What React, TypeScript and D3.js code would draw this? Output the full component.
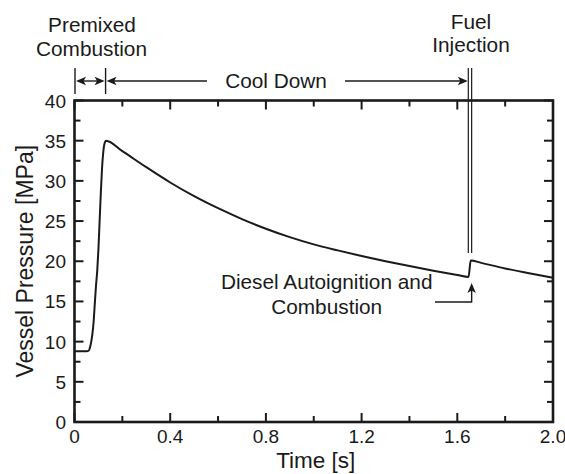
import React from "react";
import * as d3 from "d3";

// ---- data ----
const timeS = [0, 0.03, 0.05, 0.06, 0.065, 0.07, 0.075, 0.08, 0.085, 0.09, 0.095, 0.1, 0.105, 0.11, 0.115, 0.12, 0.125, 0.132, 0.2, 0.3, 0.4, 0.5, 0.6, 0.7, 0.8, 0.9, 1.0, 1.1, 1.2, 1.3, 1.4, 1.5, 1.6, 1.647, 1.656, 1.7, 1.8, 1.9, 2.0];
const pressureMPa = [8.8, 8.8, 8.8, 8.9, 9.3, 10.0, 11.0, 12.5, 14.8, 17.0, 18.8, 21.5, 25.0, 28.5, 31.5, 33.5, 34.6, 35.0, 33.7, 31.7, 29.8, 28.1, 26.6, 25.25, 24.05, 23.0, 22.1, 21.35, 20.65, 20.0, 19.4, 18.83, 18.3, 18.05, 20.1, 19.8, 19.1, 18.5, 17.95];

const xMajorTicks = [0, 0.4, 0.8, 1.2, 1.6, 2.0];
const xTickLabels = ["0", "0.4", "0.8", "1.2", "1.6", "2.0"];
const xMinorTicks = [0.2, 0.6, 1.0, 1.4, 1.8];
const yMajorTicks = [0, 5, 10, 15, 20, 25, 30, 35, 40];
const yTickLabels = ["0", "5", "10", "15", "20", "25", "30", "35", "40"];
const yMinorTicks = [2.5, 7.5, 12.5, 17.5, 22.5, 27.5, 32.5, 37.5];

const premixedEnd = 0.132; // s
const injectionTimes = [1.646, 1.66]; // s
const autoignition = { t: 1.66, p: 20.1 };

const FONT = "'Liberation Sans', Arial, Helvetica, sans-serif";
const INK = "#1a1a1a";

function Arrow({ x, y, dir }: { x: number; y: number; dir: "left" | "right" | "up" }) {
  const L = 10, W = 4.2, N = 2.5;
  let d = "";
  if (dir === "left") d = `M${x},${y} L${x + L},${y - W} L${x + L - N},${y} L${x + L},${y + W} Z`;
  if (dir === "right") d = `M${x},${y} L${x - L},${y - W} L${x - L + N},${y} L${x - L},${y + W} Z`;
  if (dir === "up") d = `M${x},${y} L${x - W},${y + L} L${x},${y + L - N} L${x + W},${y + L} Z`;
  return <path d={d} fill={INK} />;
}

export default function App() {
  const x = d3.scaleLinear().domain([0, 2]).range([74.5, 553]);
  const y = d3.scaleLinear().domain([0, 40]).range([422, 100.5]);
  const pts = timeS.map((t, i) => [t, pressureMPa[i]] as [number, number]);
  const line = d3
    .line<[number, number]>()
    .x((d) => x(d[0]))
    .y((d) => y(d[1]))
    .curve(d3.curveMonotoneX);

  const x0 = x(0), x1 = x(2), y0 = y(0), y1 = y(40);
  const majL = 9, minL = 6;
  const xPre = x(premixedEnd);
  const arrowY = 81;
  const ax = x(autoignition.t);

  return (
    <svg
      width={565}
      height={474}
      style={{ position: "absolute", left: 0, top: 0, background: "#fff" }}
      fontFamily={FONT}
    >
      <rect width={565} height={474} fill="#fff" />
      {/* ticks */}
      <g stroke={INK} strokeWidth={2}>
        {xMajorTicks.map((t) => (
          <g key={"xm" + t}>
            <line x1={x(t)} x2={x(t)} y1={y0} y2={y0 - majL} />
            <line x1={x(t)} x2={x(t)} y1={y1} y2={y1 + majL} />
          </g>
        ))}
        {xMinorTicks.map((t) => (
          <g key={"xn" + t}>
            <line x1={x(t)} x2={x(t)} y1={y0} y2={y0 - minL} />
            <line x1={x(t)} x2={x(t)} y1={y1} y2={y1 + minL} />
          </g>
        ))}
        {yMajorTicks.map((v) => (
          <g key={"ym" + v}>
            <line x1={x0} x2={x0 + majL} y1={y(v)} y2={y(v)} />
            <line x1={x1} x2={x1 - majL} y1={y(v)} y2={y(v)} />
          </g>
        ))}
        {yMinorTicks.map((v) => (
          <g key={"yn" + v}>
            <line x1={x0} x2={x0 + minL} y1={y(v)} y2={y(v)} />
            <line x1={x1} x2={x1 - minL} y1={y(v)} y2={y(v)} />
          </g>
        ))}
      </g>
      {/* frame */}
      <rect x={x0} y={y1} width={x1 - x0} height={y0 - y1} fill="none" stroke={INK} strokeWidth={2.6} />

      {/* curve */}
      <path d={line(pts) || ""} fill="none" stroke={INK} strokeWidth={2} strokeLinejoin="round" />

      {/* tick labels */}
      <g fill={INK} fontSize={19}>
        {xMajorTicks.map((t, i) => (
          <text key={"xl" + t} x={x(t)} y={y0 + 21} textAnchor="middle">
            {xTickLabels[i]}
          </text>
        ))}
        {yMajorTicks.map((v, i) => (
          <text key={"yl" + v} x={66} y={y(v) + 7} textAnchor="end">
            {yTickLabels[i]}
          </text>
        ))}
      </g>

      {/* axis titles */}
      <text x={(x0 + x1) / 2 + 2} y={468} textAnchor="middle" fontSize={22.5} fill={INK}>
        Time [s]
      </text>
      <text
        transform={`translate(32.5,${(y0 + y1) / 2}) rotate(-90)`}
        textAnchor="middle"
        fontSize={23}
        fill={INK}
      >
        Vessel Pressure [MPa]
      </text>

      {/* top annotations */}
      <g fill={INK} fontSize={20.8} textAnchor="middle">
        <text x={92} y={32}>Premixed</text>
        <text x={91.5} y={55.5}>Combustion</text>
        <text x={471} y={29.3}>Fuel</text>
        <text x={471} y={51.7}>Injection</text>
        <text x={276} y={88.3}>Cool Down</text>
        <text x={326.7} y={289.3}>Diesel Autoignition and</text>
        <text x={326.7} y={314}>Combustion</text>
      </g>

      {/* brackets */}
      <g stroke={INK} strokeWidth={1.4}>
        <line x1={x0 + 0.5} x2={x0 + 0.5} y1={68} y2={94} />
        <line x1={xPre - 0.5} x2={xPre - 0.5} y1={68} y2={94} />
        <line x1={x0 + 4} x2={xPre - 4} y1={arrowY} y2={arrowY} />
        <line x1={xPre + 4} x2={207} y1={arrowY} y2={arrowY} />
        <line x1={345} x2={x(injectionTimes[0]) - 4} y1={arrowY} y2={arrowY} />
        {injectionTimes.map((t) => (
          <line key={"inj" + t} x1={x(t)} x2={x(t)} y1={68} y2={253} strokeWidth={1.2} />
        ))}
        <polyline points={`435,302 ${ax},302 ${ax},290`} fill="none" />
      </g>
      <Arrow x={x0 + 1.5} y={arrowY} dir="left" />
      <Arrow x={xPre - 1.5} y={arrowY} dir="right" />
      <Arrow x={xPre + 0.5} y={arrowY} dir="left" />
      <Arrow x={x(injectionTimes[0]) - 0.5} y={arrowY} dir="right" />
      <Arrow x={ax} y={283} dir="up" />
    </svg>
  );
}
